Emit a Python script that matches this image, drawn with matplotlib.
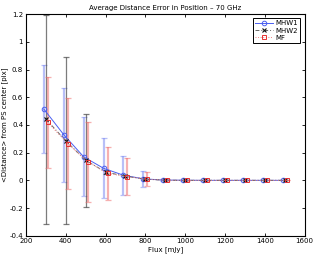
import matplotlib
matplotlib.use("Agg")
import matplotlib.pyplot as plt
import numpy as np

# flux levels (mJy) and the three detectors
flux = np.array([300, 400, 500, 600, 700, 800, 900, 1000, 1100, 1200, 1300, 1400, 1500])

mhw1 = [0.515, 0.33, 0.17, 0.087, 0.037, 0.011, 0.002, 0.001, 0.0, 0.0, 0.0, 0.0, 0.0]
mhw1_err = [0.315, 0.34, 0.285, 0.217, 0.142, 0.06, 0.006, 0.003, 0.002, 0.0, 0.0, 0.0, 0.0]

mhw2 = [0.443, 0.286, 0.145, 0.06, 0.03, 0.008, 0.001, 0.0, 0.0, 0.0, 0.0, 0.0, 0.0]
mhw2_err = [0.755, 0.605, 0.335, 0.012, 0.008, 0.004, 0.002, 0.0, 0.0, 0.0, 0.0, 0.0, 0.0]

mf = [0.418, 0.265, 0.135, 0.05, 0.027, 0.008, 0.001, 0.0, 0.0, 0.0, 0.0, 0.0, 0.0]
mf_err = [0.332, 0.33, 0.29, 0.19, 0.133, 0.049, 0.006, 0.003, 0.002, 0.0, 0.0, 0.0, 0.0]

xticks = [200, 400, 600, 800, 1000, 1200, 1400, 1600]
yticks = [-0.4, -0.2, 0, 0.2, 0.4, 0.6, 0.8, 1, 1.2]
ytick_labels = ["-0.4", "-0.2", "0", "0.2", "0.4", "0.6", "0.8", "1", "1.2"]

plt.rcParams["font.family"] = ["DejaVu Sans"]
fs = 5

fig = plt.figure(figsize=(3.16, 2.54), dpi=100)
ax = fig.add_axes([0.082, 0.072, 0.882, 0.872])

# error bars first (light), then lines with markers on top
ax.errorbar(flux - 10, mhw1, yerr=mhw1_err, fmt="none", ecolor="#7f8cf2",
            elinewidth=1.6, capsize=2.2, capthick=0.9, alpha=0.55, zorder=2)
ax.errorbar(flux, mhw2, yerr=mhw2_err, fmt="none", ecolor="#444444",
            elinewidth=0.9, capsize=2.2, capthick=0.9, alpha=0.7, zorder=2)
ax.errorbar(flux + 10, mf, yerr=mf_err, fmt="none", ecolor="#f07070",
            elinewidth=1.6, capsize=2.2, capthick=0.9, alpha=0.55, zorder=2)

ax.plot(flux - 10, mhw1, "-", color="#4a5ef0", lw=0.7, marker="o", ms=3.3,
        mfc="none", mec="#4a5ef0", mew=0.7, label="MHW1", zorder=3)
ax.plot(flux, mhw2, linestyle=(0, (4, 2, 1, 2)), color="#666666", lw=0.7, marker="x",
        ms=2.3, mec="#111111", mew=0.8, label="MHW2", zorder=3)
ax.plot(flux + 10, mf, ":", color="#f08080", lw=0.7, marker="s", ms=3.0,
        mfc="none", mec="#e83030", mew=0.7, label="MF", zorder=3)

ax.set_xlim(200, 1600)
ax.set_ylim(-0.4, 1.2)
ax.set_xticks(xticks)
ax.set_yticks(yticks)
ax.set_yticklabels(ytick_labels)
ax.tick_params(direction="in", length=2.5, width=0.6, labelsize=fs,
               top=True, right=True, pad=2)
for s in ax.spines.values():
    s.set_linewidth(0.8)

ax.set_title("Average Distance Error in Position \u2013 70 GHz", fontsize=fs, pad=3)
ax.set_xlabel("Flux [mJy]", fontsize=fs, labelpad=1)
ax.set_ylabel("<Distance> from PS center [pix]", fontsize=fs, labelpad=1)

leg = ax.legend(loc="upper right", fontsize=fs, fancybox=False, framealpha=1,
                edgecolor="black", borderpad=0.3, handlelength=2.6,
                handletextpad=0.4, labelspacing=0.15, borderaxespad=0.6)
leg.get_frame().set_linewidth(0.7)

fig.savefig("out.png", dpi=100)
